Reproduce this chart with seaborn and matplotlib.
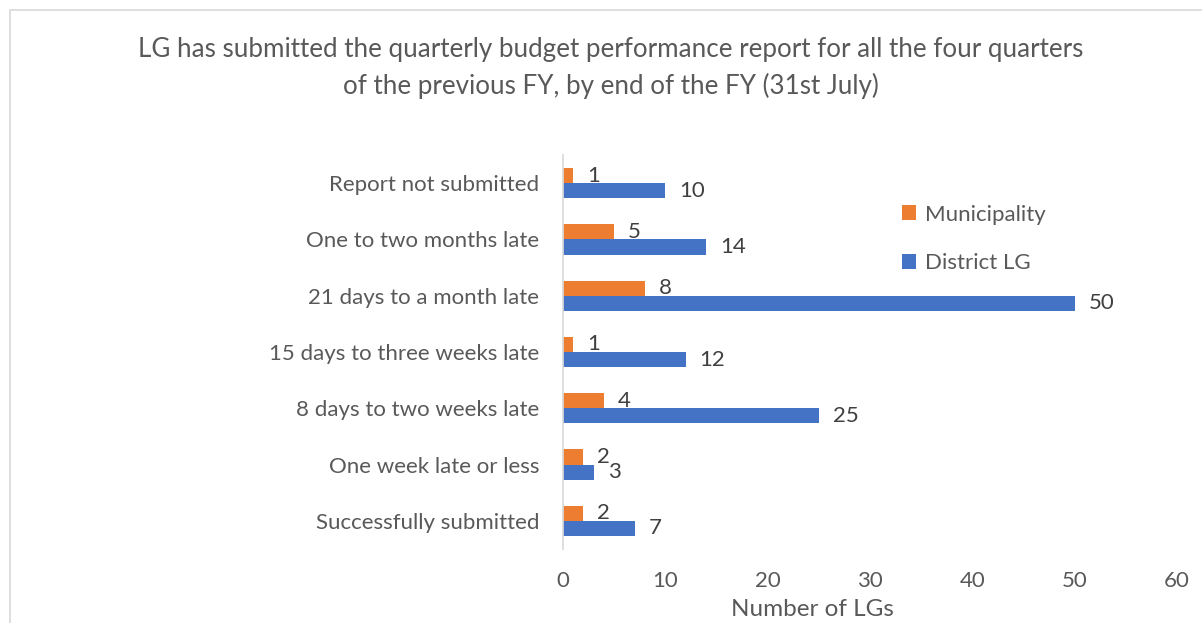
import matplotlib
matplotlib.use("Agg")
import matplotlib.pyplot as plt
import seaborn as sns
import pandas as pd
from matplotlib.patches import Rectangle

categories = ["Report not submitted", "One to two months late", "21 days to a month late",
              "15 days to three weeks late", "8 days to two weeks late",
              "One week late or less", "Successfully submitted"]
municipality = [1, 5, 8, 1, 4, 2, 2]
district_lg = [10, 14, 50, 12, 25, 3, 7]
series_names = ["Municipality", "District LG"]
xticks = [0, 10, 20, 30, 40, 50, 60]

df = pd.DataFrame({
    "Category": categories * 2,
    "Value": municipality + district_lg,
    "Series": [series_names[0]] * len(categories) + [series_names[1]] * len(categories),
})

sns.set_theme(style="white")
plt.rcParams["font.family"] = ["Lato", "DejaVu Sans"]
TXT = "#595959"

fig = plt.figure(figsize=(12.02, 6.23), dpi=100)
ax = fig.add_axes([0.4684, 0.1188, 0.5108, 0.6324])

sns.barplot(data=df, y="Category", x="Value", hue="Series", order=categories,
            hue_order=series_names, palette=["#ED7D31", "#4472C4"], orient="h",
            width=0.54, saturation=1, ax=ax, edgecolor="none")

for c in ax.containers:
    ax.bar_label(c, padding=10, fontsize=16, color="#404040")

ax.set_xlim(0, 60)
ax.set_xticks(xticks)
ax.set_xticklabels([str(t) for t in xticks], fontsize=16, color=TXT)
ax.tick_params(axis="x", length=0, pad=16)
ax.tick_params(axis="y", length=0, pad=17, labelsize=16, labelcolor=TXT)
ax.set_ylabel("")
ax.set_xlabel("Number of LGs", fontsize=17.5, color=TXT)
ax.xaxis.set_label_coords(0.407, -0.128)
for s in ["top", "right", "bottom"]:
    ax.spines[s].set_visible(False)
ax.spines["left"].set_color("#D9D9D9")

leg = ax.legend(loc="upper left", bbox_to_anchor=(0.519, 0.925), frameon=False,
                fontsize=16, handlelength=0.65, handleheight=0.65, labelspacing=1.3,
                handletextpad=0.4)
for t in leg.get_texts():
    t.set_color(TXT)

fig.text(0.508, 0.94, "LG has submitted the quarterly budget performance report for all the four quarters\n"
         "of the previous FY, by end of the FY (31st July)", ha="center", va="top",
         fontsize=18.7, color=TXT, linespacing=1.5)

fig.patches.append(Rectangle((10 / 1202, -0.05), 1.1, 1 - 10 / 623 + 0.05,
                             transform=fig.transFigure, fill=False,
                             edgecolor="#D9D9D9", linewidth=1.2))

fig.savefig("out.png", dpi=100)
